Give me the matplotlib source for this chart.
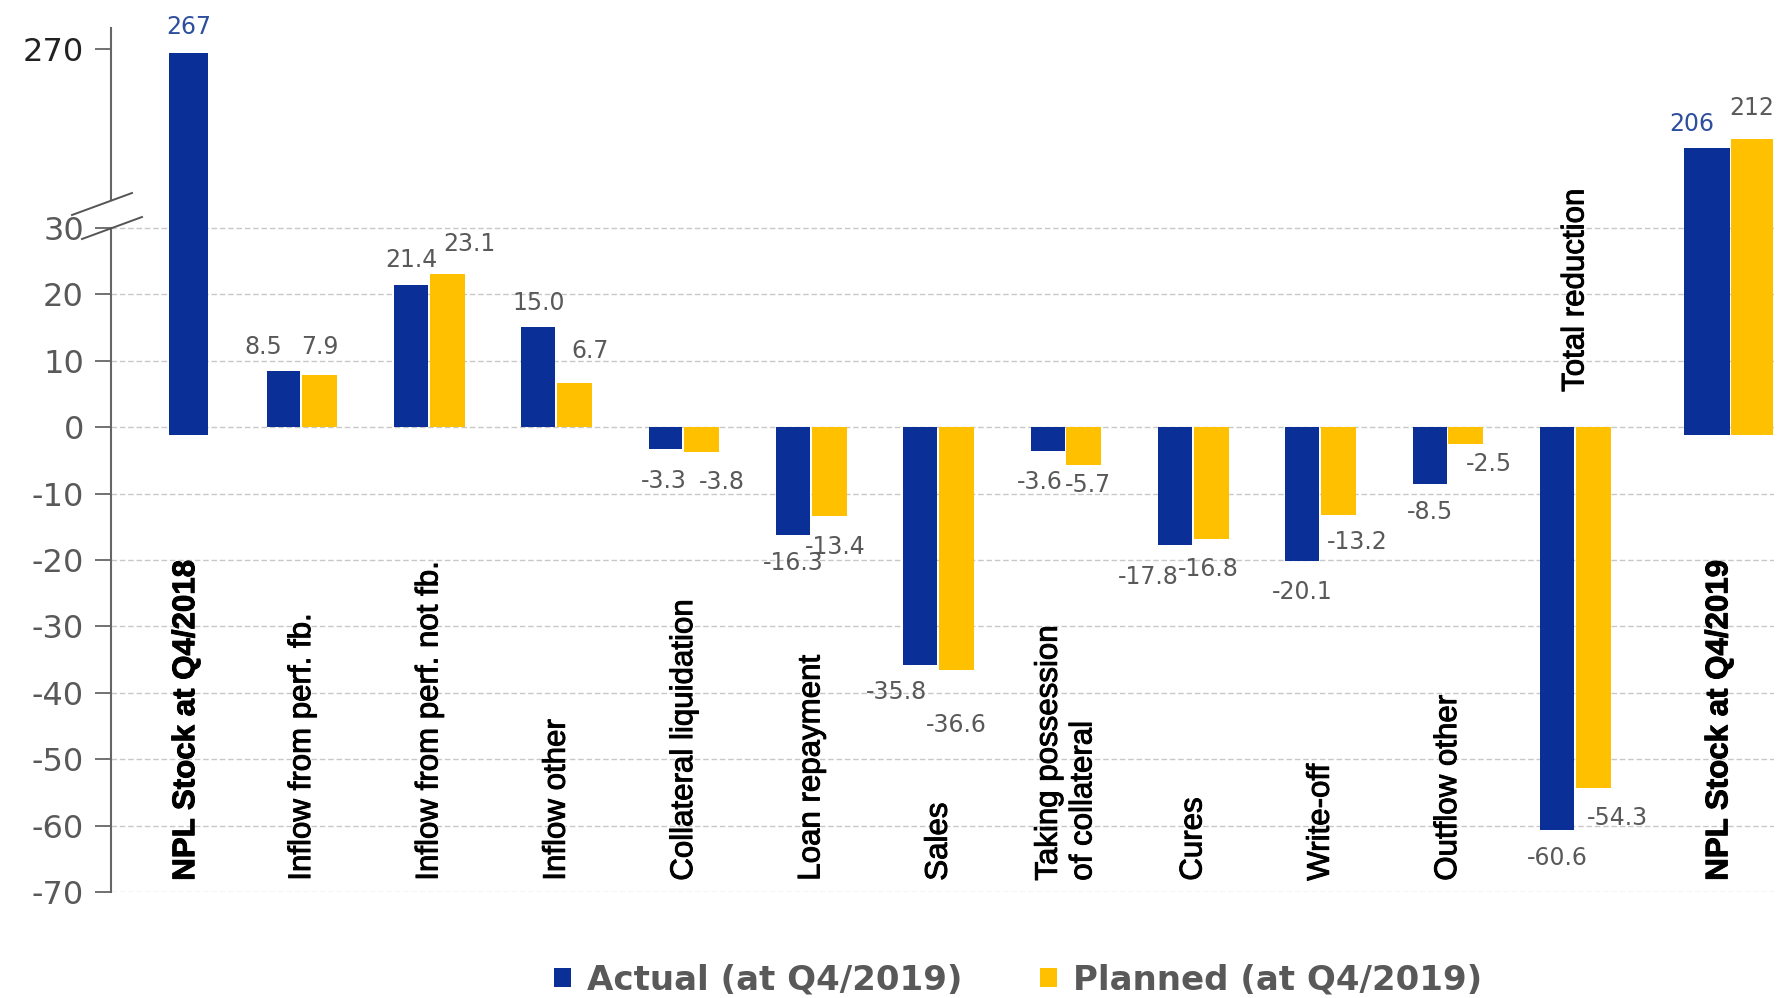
import numpy as np
import matplotlib.pyplot as plt
import matplotlib.patheffects as pe
from matplotlib.patches import Patch
from matplotlib.lines import Line2D

# data (EUR bn)
categories = ['NPL Stock at Q4/2018', 'Inflow from perf. fb.', 'Inflow from perf. not fb.',
              'Inflow other', 'Collateral liquidation', 'Loan repayment', 'Sales',
              'Taking possession\nof collateral', 'Cures', 'Write-off', 'Outflow other',
              'Total reduction', 'NPL Stock at Q4/2019']
actual = [267, 8.5, 21.4, 15.0, -3.3, -16.3, -35.8, -3.6, -17.8, -20.1, -8.5, -60.6, 206]
planned = [np.nan, 7.9, 23.1, 6.7, -3.8, -13.4, -36.6, -5.7, -16.8, -13.2, -2.5, -54.3, 212]
series_names = ['Actual (at Q4/2019)', 'Planned (at Q4/2019)']
yticks = [-70, -60, -50, -40, -30, -20, -10, 0, 10, 20, 30, 270]

BLUE = '#0A2F96'
YELLOW = '#FFC000'
GREY = '#595959'
STOCK_TXT = '#2E4E9E'

# label nudges in pixels (dx, dy), just to mimic where the labels sit
act_nudge = [(0, 26), (-20, 24), (0, 25), (0, 24), (-2, -32), (0, -28), (-24, -27),
             (-8, -31), (-27, -32), (0, -31), (0, -28), (0, -28), (-15, 24)]
plan_nudge = [(0, 0), (0, 28), (22, 30), (15, 32), (20, -30), (6, -31), (0, -55),
              (4, -20), (-3, -30), (19, -27), (23, -20), (24, -30), (0, 31)]

# broken y axis: 30..155 is squeezed away, above 155 is compressed
k = 0.2345
y_knots = [-1000, 30, 155, 1000]
f_knots = [-1000, 30, 30.01, 30.01 + 845 * k]


def fwd(y):
    return np.interp(y, y_knots, f_knots)


def inv(f):
    return np.interp(f, f_knots, y_knots)


fig = plt.figure(figsize=(17.83, 9.98), dpi=100)
ax = fig.add_axes([0.0623, 0.1062, 0.9327, 0.8653])
ax.set_yscale('function', functions=(fwd, inv))
ax.set_ylim(-70, 283)
ax.set_xlim(-0.5, 12.56)

n = len(categories)
w = 0.265
stock = {0, n - 1}
for i in range(n):
    if i == 0:
        xb, wb, xy, wy = i + 0.11, 0.31, None, None
    elif i == n - 1:
        xb, wb, xy, wy = i + 0.03, 0.36, i + 0.385, 0.33
    else:
        xb, wb, xy, wy = i - 0.145, w, i + 0.14, w + 0.01
    base = -1.2 if i in stock else 0
    ax.bar(xb, actual[i] - base, bottom=base, width=wb, color=BLUE, zorder=3)
    txt = f'{actual[i]:.0f}' if abs(actual[i]) > 100 else f'{actual[i]:.1f}'
    ax.annotate(txt, (xb, actual[i]), xytext=act_nudge[i], textcoords='offset pixels',
                ha='center', va='center', fontsize=17,
                color=STOCK_TXT if i in stock else GREY, annotation_clip=False)
    if xy is not None and not np.isnan(planned[i]):
        ax.bar(xy, planned[i] - base, bottom=base, width=wy, color=YELLOW, zorder=3)
        txt = f'{planned[i]:.0f}' if abs(planned[i]) > 100 else f'{planned[i]:.1f}'
        ax.annotate(txt, (xy, planned[i]), xytext=plan_nudge[i], textcoords='offset pixels',
                    ha='center', va='center', fontsize=17, color=GREY, annotation_clip=False)

# category labels written vertically inside the plot (slightly thickened like the original)
thick = [pe.withStroke(linewidth=0.7, foreground='black')]
for i, cat in enumerate(categories):
    bold = i in stock
    xc = i + (0.09 if i == 0 else 0.13 if i == n - 1 else 0)
    yc = 5.3 if cat == 'Total reduction' else -68.3
    ax.text(xc, yc, cat, rotation=90, ha='center', va='bottom', multialignment='left',
            fontsize=22.5, family='Liberation Sans', fontweight='bold' if bold else 'normal',
            color='black', linespacing=1.2, zorder=4, path_effects=thick)

# grid only on the lower part
for t in yticks[:-1]:
    ax.axhline(t, color='#C8C8C8', lw=1, ls=(0, (4, 2)), zorder=1)

ax.set_yticks(yticks)
ax.set_yticklabels([str(t) for t in yticks], fontsize=23, family='DejaVu Sans')
for lab in ax.get_yticklabels():
    lab.set_color('#222222' if lab.get_text() == '270' else GREY)
ax.tick_params(axis='y', length=11.5, width=1.3, color='#666666', pad=8)
ax.tick_params(axis='x', length=0, labelbottom=False)
for s in ['top', 'right', 'bottom', 'left']:
    ax.spines[s].set_visible(False)

# left spine in two pieces with the break marks between
ytr = ax.get_yaxis_transform()
ax.plot([0, 0], [-70, 30], transform=ytr, color='#666666', lw=1.5, clip_on=False)
ax.plot([0, 0], [173, 283], transform=ytr, color='#666666', lw=1.5, clip_on=False)
H = 998.0
W = 1783.0
for (x0, y0, x1, y1) in [(72, 215, 132, 193), (82, 239, 142, 217)]:
    fig.add_artist(Line2D([x0 / W, x1 / W], [1 - y0 / H, 1 - y1 / H], color='#555555', lw=1.4))

handles = [Patch(facecolor=BLUE, label=series_names[0]),
           Patch(facecolor=YELLOW, label=series_names[1])]
leg = fig.legend(handles=handles, loc='center', bbox_to_anchor=(0.571, 0.018), ncol=2,
                 frameon=False, handlelength=0.5, handleheight=0.5, handletextpad=0.45,
                 columnspacing=2.3, prop={'family': 'DejaVu Sans', 'weight': 'bold', 'size': 24.5})
for t in leg.get_texts():
    t.set_color(GREY)

fig.savefig('out.png', dpi=100)
